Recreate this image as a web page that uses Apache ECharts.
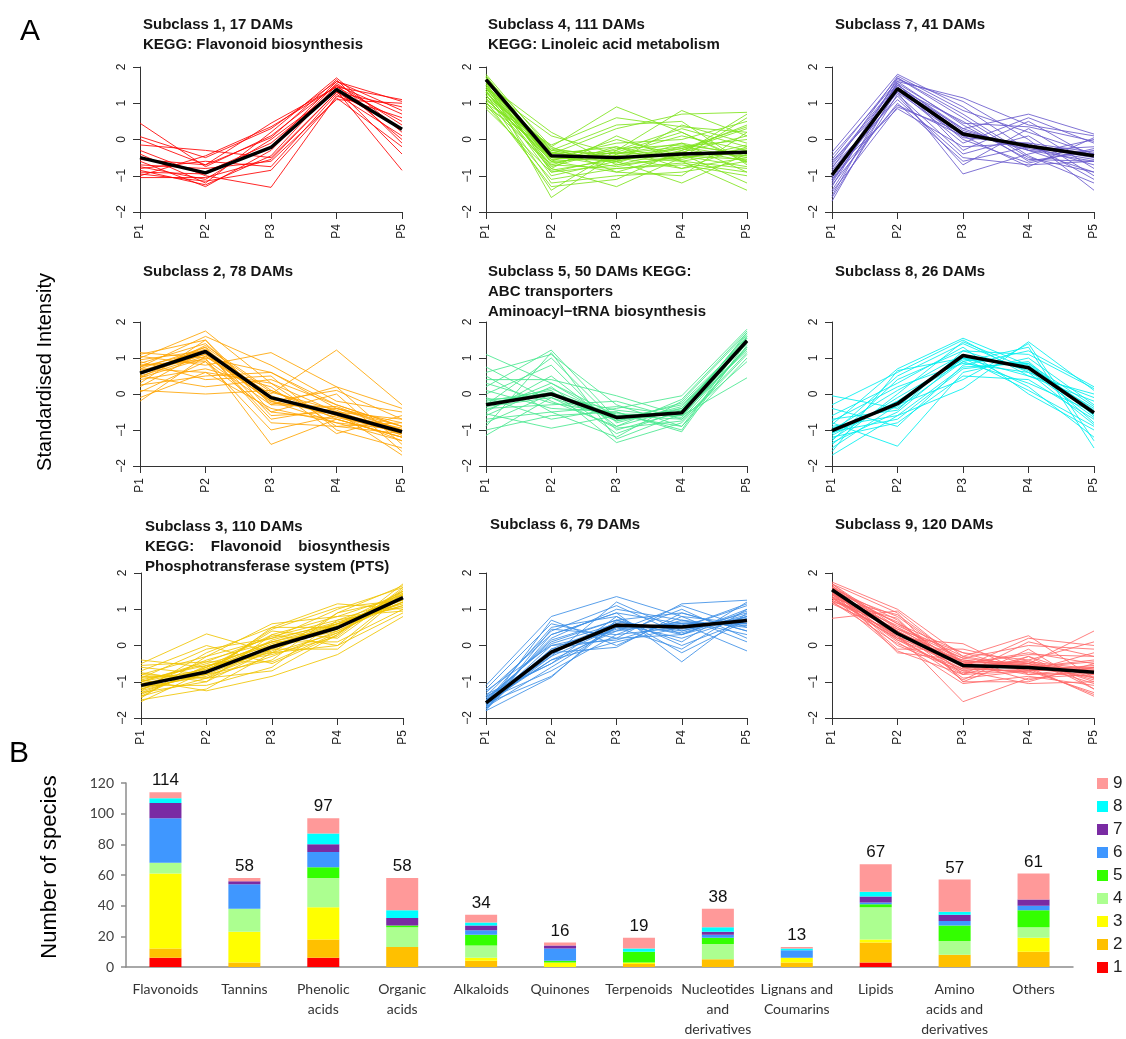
<!DOCTYPE html>
<html>
<head>
<meta charset="utf-8">
<script src="https://cdn.jsdelivr.net/npm/echarts@6/dist/echarts.min.js"></script>
<style>
  html, body { margin: 0; background: #fff; }
  #main { width: 1126px; height: 1039px; }
</style>
</head>
<body>
<div id="main"></div>
<script>
// time points of the profiles
const points = ['P1', 'P2', 'P3', 'P4', 'P5'];

const sub1Lines = [
  [0.45, -0.75, 0.1, 1.5, 0.7], [0.08, -0.5, 0.3, 1.6, 1.05], [0.0, -0.7, 0.45, 1.45, 1.1],
  [-0.15, -0.3, -0.5, 1.3, 0.9], [-0.3, -1.0, -1.32, 1.2, 0.6], [-0.4, -1.2, 0.2, 1.7, 0.2],
  [-0.5, -0.9, -0.1, 1.4, -0.4], [-0.6, -1.3, -0.3, 1.55, 0.4], [-0.7, -0.8, -0.6, 1.1, 1.0],
  [-0.75, -1.1, 0.0, 1.35, -0.85], [-0.8, -0.6, -0.75, 1.25, 0.1], [-0.85, -1.25, -0.45, 1.5, 0.0],
  [-0.9, -0.95, -0.2, 1.6, 0.8], [-0.95, -1.15, -0.85, 1.15, -0.2], [-1.0, -0.45, 0.35, 1.45, 0.5],
  [-1.05, -1.05, -0.55, 1.3, 0.3], [-0.55, -0.7, 0.05, 1.65, -0.1]
];
const sub1Mean = [-0.5, -0.92, -0.22, 1.38, 0.28];

const sub2Lines = [
  [1.15, 1.0, 0.6, -0.3, -0.9], [1.1, 1.5, -0.5, -0.7, -1.2], [1.05, 0.8, 1.15, 0.2, -0.4],
  [1.0, 1.75, 0.3, -0.9, -1.1], [0.95, 1.2, -0.7, -0.4, -0.8], [0.9, 0.4, 0.5, -1.0, -1.5],
  [0.85, 1.4, -0.2, 0.1, -0.7], [0.8, 0.9, -1.0, -0.6, -1.3], [0.75, 1.6, 0.8, -0.2, -0.5],
  [0.7, 0.6, -0.4, -0.8, -1.0], [0.6, 1.1, 0.0, 1.22, -0.3], [0.55, 1.3, -0.6, -0.5, -1.7],
  [0.5, 0.2, 0.4, -0.3, -0.9], [0.45, 1.0, -1.4, -0.7, -1.2], [0.4, 0.7, 0.2, -1.1, -0.6],
  [0.3, 1.5, -0.3, 0.2, -1.4], [0.25, 0.5, 0.6, -0.4, -1.0], [0.2, 1.2, -0.8, -0.9, -0.8],
  [0.1, 0.0, 0.1, -0.6, -1.1], [0.05, 0.9, -0.5, 0.0, -1.6], [-0.1, 0.6, 0.3, -0.5, -0.7],
  [-0.2, 1.05, -0.2, -0.8, -1.3], [0.65, 1.15, -0.15, -0.5, -1.0], [0.6, 1.25, -0.05, -0.6, -1.1],
  [0.55, 1.1, -0.2, -0.55, -0.95], [0.7, 1.3, 0.05, -0.45, -1.15], [0.5, 1.05, -0.1, -0.65, -1.05],
  [0.75, 1.2, -0.25, -0.4, -0.9], [0.45, 1.35, 0.1, -0.7, -1.2], [0.8, 0.95, -0.3, -0.35, -1.0]
];
const sub2Mean = [0.58, 1.18, -0.1, -0.55, -1.05];

const sub3Lines = [
  [-0.4, -0.6, 0.1, 0.6, 1.5], [-0.5, 0.32, -0.2, 0.9, 1.3], [-0.6, -0.8, 0.5, 1.15, 1.0],
  [-0.7, 0.0, -0.5, 0.3, 1.7], [-0.75, -1.0, 0.3, 0.0, 0.9], [-0.8, -0.3, 0.6, 0.8, 1.4],
  [-0.85, -0.9, -0.3, 0.4, 1.2], [-0.9, -0.1, 0.2, 1.0, 1.6], [-0.95, -1.25, -0.85, -0.25, 0.8],
  [-1.0, -0.5, 0.0, 0.6, 1.1], [-1.05, -0.7, 0.4, 0.2, 1.5], [-1.1, -1.1, -0.6, 0.7, 1.3],
  [-1.15, -0.4, 0.1, 0.1, 1.0], [-1.2, -0.8, -0.4, 0.9, 1.65], [-1.25, -0.2, 0.5, 0.5, 1.2],
  [-1.3, -1.0, -0.1, -0.1, 1.4], [-1.35, -0.6, 0.3, 0.8, 0.95], [-1.4, -0.9, -0.7, 0.3, 1.55],
  [-1.45, -0.3, 0.2, 0.6, 1.1], [-1.5, -1.2, -0.2, 0.0, 1.45], [-1.55, -0.7, 0.45, 1.05, 1.25],
  [-0.55, -0.45, -0.45, 0.35, 1.35], [-0.9, -0.75, -0.05, 0.5, 1.3], [-1.0, -0.65, 0.05, 0.45, 1.4],
  [-1.05, -0.8, -0.1, 0.55, 1.2], [-1.1, -0.7, 0.0, 0.4, 1.35], [-1.15, -0.85, -0.15, 0.6, 1.25],
  [-1.2, -0.6, 0.1, 0.5, 1.45], [-0.95, -0.55, -0.2, 0.35, 1.3], [-1.25, -0.75, 0.15, 0.65, 1.15],
  [-1.3, -0.65, -0.05, 0.45, 1.5], [-0.8, -0.9, 0.0, 0.55, 1.4], [-1.0, -0.45, 0.25, 0.7, 1.05],
  [-1.4, -0.55, -0.25, 0.25, 1.6]
];
const sub3Mean = [-1.1, -0.73, -0.04, 0.49, 1.32];

const sub4Lines = [
  [1.8, -0.3, -0.6, -0.2, -0.5], [1.75, -0.5, -0.3, 0.8, 0.1], [1.7, -0.9, -0.5, -0.8, -0.2],
  [1.7, -0.2, 0.9, 0.2, -0.6], [1.65, -0.6, -0.9, -0.4, 0.7], [1.6, -1.6, -0.4, -0.1, -0.9],
  [1.6, -0.4, -0.2, -0.6, -1.4], [1.55, 0.2, -0.7, -0.3, 0.3], [1.5, -0.8, -1.3, -0.5, -0.3],
  [1.5, -0.3, 0.4, 0.5, -0.7], [1.45, -1.0, -0.6, -1.2, -0.4], [1.45, -0.5, -0.1, 0.0, 0.5],
  [1.4, -0.7, -0.8, -0.7, -1.0], [1.4, 0.1, -0.4, -0.2, 0.0], [1.35, -1.2, -1.0, -0.9, -0.6],
  [1.3, -0.4, 0.3, 0.7, 0.75], [1.3, -0.6, -0.5, -0.4, -1.2], [1.25, -1.4, -0.3, 0.3, -0.2],
  [1.2, -0.2, -0.9, -1.0, 0.2], [1.15, -0.8, 0.1, -0.6, -0.8], [1.1, -0.5, -0.6, 0.4, -0.1],
  [1.05, -1.3, -1.1, -0.3, 0.4], [1.0, -0.7, -0.2, -0.8, -0.5], [0.9, -0.3, -0.4, 0.1, -0.3],
  [0.85, -0.9, -0.7, -0.5, 0.6], [1.75, -0.45, -0.55, -0.35, -0.45], [1.7, -0.65, -0.35, -0.5, -0.25],
  [1.65, -0.35, -0.6, -0.25, -0.6], [1.6, -0.55, -0.45, -0.55, -0.15], [1.55, -0.75, -0.25, -0.15, -0.4],
  [1.5, -0.45, -0.75, -0.45, -0.55], [1.45, -0.25, -0.5, -0.6, -0.3], [1.4, -0.55, -0.35, 0.2, -0.65],
  [1.35, -0.85, -0.55, -0.35, 0.1], [1.3, -0.35, -0.65, -0.1, -0.45], [1.2, -0.6, 0.0, -0.45, -0.75],
  [1.1, -0.45, -0.45, -0.25, 0.35], [0.95, -1.1, -0.8, -0.65, -0.9], [1.0, -0.15, 0.6, 0.35, 0.2]
];
const sub4Mean = [1.65, -0.45, -0.5, -0.4, -0.35];

const sub5Lines = [
  [1.1, 0.3, -0.6, -0.7, 1.3], [0.75, -0.2, -0.9, -0.4, 1.5], [0.6, 1.1, -0.3, -0.9, 1.0],
  [0.5, -0.5, -1.2, -0.2, 1.7], [0.4, 0.4, -0.05, -0.6, 0.45], [0.2, 1.22, -0.7, -0.3, 1.4],
  [0.1, -0.4, -0.5, -1.0, 1.6], [0.0, 0.8, -1.0, -0.5, 1.2], [-0.1, -0.7, -0.4, -0.05, 1.8],
  [-0.2, 0.1, -1.35, -0.8, 1.1], [-0.3, 1.0, -0.8, -0.35, 1.55], [-0.4, -0.3, -0.2, -0.7, 0.9],
  [-0.5, 0.5, -0.9, -0.15, 1.75], [-0.55, -0.95, -0.6, -0.9, 1.35], [-0.6, 0.2, -1.1, -0.45, 1.65],
  [-0.7, -0.5, -0.35, -0.6, 1.25], [-0.8, 0.0, -0.75, -0.25, 1.5], [-0.9, 1.15, -1.25, -0.55, 1.7],
  [-1.0, -0.6, -0.5, -1.05, 1.45], [-1.15, -0.1, -0.95, -0.75, 1.15], [-0.25, 0.05, -0.6, -0.5, 1.4],
  [-0.35, -0.1, -0.7, -0.55, 1.55], [-0.3, 0.15, -0.65, -0.45, 1.5], [0.3, -0.25, -0.55, -0.6, 1.3],
  [-0.45, 0.3, -0.75, -0.4, 1.6], [-0.15, -0.05, -0.45, -0.65, 1.45]
];
const sub5Mean = [-0.3, 0.0, -0.65, -0.52, 1.48];

const sub6Lines = [
  [-1.1, 0.8, 1.35, 0.8, 0.6], [-1.2, 0.6, 0.2, 1.15, 1.25], [-1.3, 0.3, 0.9, -0.45, 0.9],
  [-1.35, -0.5, 0.5, 0.6, -0.15], [-1.4, 0.4, 1.1, 0.3, 1.0], [-1.45, -0.2, -0.05, 0.9, 0.4],
  [-1.5, 0.1, 0.7, 0.1, 1.2], [-1.5, -0.7, 0.3, 1.0, 0.2], [-1.55, 0.5, 0.8, -0.2, 0.7],
  [-1.55, -0.4, 0.1, 0.5, 1.1], [-1.6, 0.2, 1.0, 0.7, 0.3], [-1.6, -0.85, 0.6, 0.2, 0.8],
  [-1.65, 0.0, 0.4, 1.1, 0.5], [-1.65, -0.3, 1.2, 0.4, 0.9], [-1.7, 0.7, 0.0, 0.8, 0.1],
  [-1.7, -0.6, 0.5, -0.1, 1.0], [-1.75, 0.3, 0.9, 0.6, 0.6], [-1.75, -0.1, 0.2, 0.3, 0.8],
  [-1.8, -0.88, 0.7, 0.9, 0.4], [-1.8, 0.45, 0.3, 0.5, 1.15], [-1.4, -0.5, 0.8, 0.0, 0.7],
  [-1.25, 0.0, 0.15, 0.7, 0.5], [-1.55, -0.2, 0.55, 0.5, 0.7], [-1.6, -0.1, 0.6, 0.45, 0.75],
  [-1.5, -0.3, 0.5, 0.55, 0.65], [-1.65, -0.25, 0.65, 0.4, 0.8], [-1.7, -0.15, 0.45, 0.6, 0.6],
  [-1.45, 0.05, 0.6, 0.35, 0.85], [-1.6, -0.4, 0.4, 0.65, 0.55], [-1.55, 0.15, 0.7, 0.3, 0.95]
];
const sub6Mean = [-1.58, -0.18, 0.56, 0.51, 0.69];

const sub7Lines = [
  [-0.35, 1.8, 0.9, -0.3, -0.2], [-0.45, 1.6, 1.15, 0.4, 0.1], [-0.55, 1.7, 0.6, -0.5, -0.9],
  [-0.6, 1.3, -0.95, -0.4, 0.0], [-0.7, 1.5, 0.3, 0.7, 0.15], [-0.75, 1.1, -0.5, -0.7, -0.6],
  [-0.8, 1.75, 0.8, 0.2, -0.4], [-0.9, 0.85, -0.2, -0.1, -1.1], [-0.95, 1.4, 0.5, -0.6, -0.3],
  [-1.0, 1.2, -0.7, 0.3, -0.8], [-1.05, 1.65, 1.05, 0.0, -1.4], [-1.1, 0.95, 0.1, -0.75, 0.05],
  [-1.2, 1.55, -0.3, 0.5, -0.5], [-1.25, 1.0, -0.6, -0.2, -0.7], [-1.3, 1.7, 0.7, -0.45, -1.2],
  [-1.4, 1.35, -0.1, 0.6, -0.1], [-1.45, 0.9, 0.2, -0.3, -0.9], [-1.55, 1.6, 0.4, -0.55, -0.6],
  [-1.6, 1.25, -0.4, 0.1, -1.0], [-1.7, 1.45, 0.0, -0.65, -0.25], [-1.0, 1.45, 0.2, -0.2, -0.5],
  [-0.9, 1.35, 0.1, -0.15, -0.4], [-1.1, 1.5, 0.25, -0.25, -0.55], [-0.85, 1.3, 0.05, -0.1, -0.35],
  [-1.15, 1.4, 0.3, -0.3, -0.6], [-0.65, 1.55, 0.45, 0.35, -0.05]
];
const sub7Mean = [-0.98, 1.4, 0.15, -0.18, -0.45];

const sub8Lines = [
  [-0.05, -0.4, 0.9, 0.3, -0.5], [-0.3, 0.6, 1.5, 0.5, -0.2], [-0.4, -0.9, 0.8, 1.2, 0.2],
  [-0.6, 0.3, 1.3, 0.0, -1.0], [-0.8, -1.45, 0.6, 1.0, -0.3], [-0.85, 0.7, 1.55, 0.8, -0.8],
  [-0.9, -0.6, 0.15, 1.45, 0.1], [-1.0, 0.1, 1.1, 0.2, -1.2], [-1.05, -0.7, 0.7, 0.9, -0.6],
  [-1.1, 0.5, 1.4, 0.6, -0.1], [-1.15, -0.2, 0.9, 1.3, -1.5], [-1.2, -0.8, 0.5, 0.4, -0.7],
  [-1.3, 0.4, 1.2, 1.1, 0.15], [-1.35, -0.5, 1.0, 0.1, -0.9], [-1.4, 0.0, 1.45, 0.7, -0.4],
  [-1.5, -0.3, 0.4, 1.4, -1.3], [-1.6, 0.65, 1.0, 0.5, 0.0], [-1.7, -0.6, 0.75, 0.85, -0.6],
  [-1.0, -0.25, 1.05, 0.75, -0.5], [-0.95, -0.35, 1.1, 0.7, -0.55], [-1.1, -0.2, 1.0, 0.8, -0.45],
  [-0.7, -0.45, 1.2, 0.65, -0.65], [-1.25, -0.1, 0.95, 0.85, -0.35], [-0.75, 0.2, 0.85, 0.6, -0.85]
];
const sub8Mean = [-1.02, -0.27, 1.07, 0.73, -0.52];

const sub9Lines = [
  [1.75, 1.0, -0.3, 0.27, -0.9], [1.7, 0.5, -0.6, -0.5, 0.4], [1.7, 0.9, -1.0, -0.3, -1.2],
  [1.65, 0.2, 0.05, -0.8, -0.6], [1.6, -0.2, -0.4, -0.6, -1.4], [1.6, 0.7, -0.8, 0.1, -0.3],
  [1.55, 0.3, -1.55, -0.9, -0.8], [1.55, 0.6, -0.2, -0.4, 0.1], [1.5, 0.0, -0.7, -1.05, -1.0],
  [1.5, 0.8, -0.5, -0.2, -0.5], [1.45, 0.4, -0.9, -0.7, -1.3], [1.45, -0.1, -0.1, -0.5, -0.7],
  [1.4, 0.65, -0.6, 0.2, 0.0], [1.4, 0.1, -1.05, -0.85, -1.1], [1.35, 0.55, -0.3, -0.6, -0.4],
  [1.35, -0.15, -0.8, -0.3, -0.9], [1.3, 0.85, -0.45, -0.95, -0.6], [1.3, 0.25, -0.95, -0.1, -1.2],
  [1.25, 0.45, -0.2, -0.7, -0.2], [1.2, 0.05, -0.65, -0.4, -1.0], [1.2, 0.75, -1.0, -1.0, -0.5],
  [1.15, 0.35, -0.35, -0.55, -0.8], [0.75, 0.95, -0.5, -0.25, -0.3], [1.5, 0.15, -0.75, -0.65, -1.35],
  [1.6, 0.6, -0.55, -0.45, -0.65], [1.7, 0.35, -0.55, -0.65, -0.75], [1.65, 0.45, -0.45, -0.5, -0.9],
  [1.6, 0.25, -0.65, -0.7, -0.55], [1.55, 0.4, -0.5, -0.55, -0.7], [1.5, 0.3, -0.6, -0.75, -0.85],
  [1.45, 0.2, -0.4, -0.6, -0.6], [1.4, 0.35, -0.7, -0.5, -1.05], [1.35, 0.15, -0.5, -0.8, -0.75],
  [1.3, 0.4, -0.6, -0.6, -0.45], [1.25, 0.3, -0.45, -0.45, -0.95], [1.2, 0.2, -0.8, -0.7, -0.65],
  [1.45, 0.5, -0.35, 0.0, -0.1]
];
const sub9Mean = [1.54, 0.33, -0.55, -0.61, -0.74];

// panel B: number of species per class, one array per subclass
const categories = ['Flavonoids', 'Tannins', 'Phenolic\nacids', 'Organic\nacids', 'Alkaloids', 'Quinones',
  'Terpenoids', 'Nucleotides\nand\nderivatives', 'Lignans and\nCoumarins', 'Lipids',
  'Amino\nacids and\nderivatives', 'Others'];
const count1 = [6, 0, 6, 0, 0, 0, 0, 0, 0, 3, 0, 0];
const count2 = [6, 3, 12, 13, 4, 0, 2, 5, 3, 13, 8, 10];
const count3 = [49, 20, 21, 0, 2, 3, 1, 0, 3, 2, 0, 9];
const count4 = [7, 15, 19, 13, 8, 0, 0, 10, 0, 21, 9, 7];
const count5 = [0, 0, 7, 1, 7, 1, 7, 4, 0, 2, 10, 11];
const count6 = [29, 16, 10, 0, 3, 8, 0, 2, 5, 1, 3, 3];
const count7 = [10, 2, 5, 5, 3, 2, 0, 2, 0, 4, 4, 4];
const count8 = [3, 0, 7, 5, 2, 0, 2, 3, 1, 3, 2, 0];
const count9 = [4, 2, 10, 21, 5, 2, 7, 12, 1, 18, 21, 17];
const barTicks = [0, 20, 40, 60, 80, 100, 120];

const FONT = 'Liberation Sans, Arial, sans-serif';
const chart = echarts.init(document.getElementById('main'), null, { renderer: 'canvas' });

// panel layout (grid box + title), order = reading order of the figure
const panels = [
  { lines: sub1Lines, mean: sub1Mean, color: '#ff0000', box: [140, 67, 262, 145], t: [143, 15],
    title: 'Subclass 1, 17 DAMs\nKEGG: Flavonoid biosynthesis' },
  { lines: sub4Lines, mean: sub4Mean, color: '#7fe41c', box: [486, 67, 261, 145], t: [488, 15],
    title: 'Subclass 4, 111 DAMs\nKEGG: Linoleic acid metabolism' },
  { lines: sub7Lines, mean: sub7Mean, color: '#6a5acd', box: [832, 67, 262, 145], t: [835, 15],
    title: 'Subclass 7, 41 DAMs' },
  { lines: sub2Lines, mean: sub2Mean, color: '#ffa500', box: [140, 322, 262, 144], t: [143, 262],
    title: 'Subclass 2, 78 DAMs' },
  { lines: sub5Lines, mean: sub5Mean, color: '#48e88e', box: [486, 322, 261, 144], t: [488, 262],
    title: 'Subclass 5, 50 DAMs KEGG:\nABC transporters\nAminoacyl\u2212tRNA biosynthesis' },
  { lines: sub8Lines, mean: sub8Mean, color: '#00efef', box: [832, 322, 262, 144], t: [835, 262],
    title: 'Subclass 8, 26 DAMs' },
  { lines: sub3Lines, mean: sub3Mean, color: '#f0c400', box: [141, 573, 262, 145], t: [145, 517],
    title: 'Subclass 3, 110 DAMs\nKEGG:    Flavonoid    biosynthesis\nPhosphotransferase system (PTS)' },
  { lines: sub6Lines, mean: sub6Mean, color: '#3d8fe6', box: [486, 573, 261, 145], t: [490, 515],
    title: 'Subclass 6, 79 DAMs' },
  { lines: sub9Lines, mean: sub9Mean, color: '#ff6a6a', box: [832, 573, 262, 145], t: [835, 515],
    title: 'Subclass 9, 120 DAMs' }
];

const grid = [], xAxis = [], yAxis = [], series = [], title = [];

panels.forEach((p, i) => {
  grid.push({ left: p.box[0], top: p.box[1], width: p.box[2], height: p.box[3] });
  title.push({
    text: p.title, left: p.t[0], top: p.t[1], padding: 0,
    textStyle: { fontFamily: FONT, fontSize: 15, fontWeight: 'bold', color: '#151515', lineHeight: 20 }
  });
  xAxis.push({
    gridIndex: i, type: 'category', data: points, boundaryGap: false,
    axisLine: { onZero: false, lineStyle: { color: '#333', width: 1 } },
    axisTick: { length: 7, interval: 0, lineStyle: { color: '#333' } },
    axisLabel: { rotate: 90, interval: 0, margin: 12, fontFamily: FONT, fontSize: 12, color: '#222' },
    splitLine: { show: false }
  });
  yAxis.push({
    gridIndex: i, type: 'value', min: -2, max: 2, interval: 1,
    axisLine: { show: true, onZero: false, lineStyle: { color: '#333', width: 1 } },
    axisTick: { show: true, length: 7, lineStyle: { color: '#333' } },
    axisLabel: {
      rotate: 90, margin: 12, fontFamily: FONT, fontSize: 12, color: '#222',
      formatter: v => String(v).replace('-', '\u2212')
    },
    splitLine: { show: false }
  });
  p.lines.forEach(d => {
    series.push({
      type: 'line', xAxisIndex: i, yAxisIndex: i, data: d, symbol: 'none', silent: true, z: 2,
      lineStyle: { color: p.color, width: 1, opacity: 0.85 }
    });
  });
  series.push({
    type: 'line', xAxisIndex: i, yAxisIndex: i, data: p.mean, symbol: 'none', silent: true, z: 3,
    lineStyle: { color: '#000', width: 3.5 }
  });
});

// stacked bar chart (panel B)
const counts = [count1, count2, count3, count4, count5, count6, count7, count8, count9];
const barColors = ['#ff0000', '#ffc000', '#ffff00', '#acff90', '#33ff00', '#3f97ff', '#7a2ba3', '#00ffff', '#ff9999'];
const totals = categories.map((c, k) => counts.reduce((s, a) => s + a[k], 0));
const bi = panels.length;

grid.push({ left: 126, top: 783, width: 947, height: 190 });
xAxis.push({
  gridIndex: bi, type: 'category', data: categories,
  axisLine: { lineStyle: { color: '#8c8c8c', width: 1.5 } },
  axisTick: { length: 5, interval: 0, lineStyle: { color: '#8c8c8c', width: 1.5 } },
  axisLabel: { interval: 0, margin: 12, fontFamily: 'Lato', fontSize: 14, color: '#333', lineHeight: 20 }
});
yAxis.push({
  gridIndex: bi, type: 'value', min: barTicks[0], max: barTicks[barTicks.length - 1], interval: 20,
  axisLine: { show: true, lineStyle: { color: '#8c8c8c', width: 1.5 } },
  axisTick: { show: true, length: 5, lineStyle: { color: '#8c8c8c', width: 1.5 } },
  axisLabel: { margin: 12, fontFamily: 'Lato', fontSize: 14, color: '#404040' },
  splitLine: { show: false }
});
counts.forEach((d, s) => {
  series.push({
    name: String(s + 1), type: 'bar', stack: 'species', xAxisIndex: bi, yAxisIndex: bi,
    data: d, barWidth: 32, itemStyle: { color: barColors[s] },
    label: s === counts.length - 1 ? {
      show: true, position: 'top', distance: 3, fontFamily: FONT, fontSize: 17, color: '#111',
      formatter: p => totals[p.dataIndex]
    } : { show: false }
  });
});

chart.setOption({
  animation: false,
  title: title,
  grid: grid,
  xAxis: xAxis,
  yAxis: yAxis,
  series: series,
  legend: {
    data: ['9', '8', '7', '6', '5', '4', '3', '2', '1'],
    orient: 'vertical', left: 1097, top: 775, padding: 0,
    icon: 'rect', itemWidth: 11, itemHeight: 11, itemGap: 6,
    selectedMode: false,
    textStyle: { fontFamily: FONT, fontSize: 17, color: '#222', lineHeight: 17 }
  },
  graphic: [
    { type: 'text', left: 20, top: 17, style: { text: 'A', font: '30px ' + FONT, fill: '#000' } },
    { type: 'text', left: 9, top: 739, style: { text: 'B', font: '30px ' + FONT, fill: '#000' } },
    {
      type: 'text', x: 45, y: 372, rotation: Math.PI / 2,
      style: { text: 'Standardised Intensity', font: '20px ' + FONT, fill: '#000',
        align: 'center', verticalAlign: 'middle', textAlign: 'center', textVerticalAlign: 'middle' }
    },
    {
      type: 'text', x: 50, y: 867, rotation: Math.PI / 2,
      style: { text: 'Number of species', font: '22px ' + FONT, fill: '#000',
        align: 'center', verticalAlign: 'middle', textAlign: 'center', textVerticalAlign: 'middle' }
    }
  ]
});
</script>
</body>
</html>
